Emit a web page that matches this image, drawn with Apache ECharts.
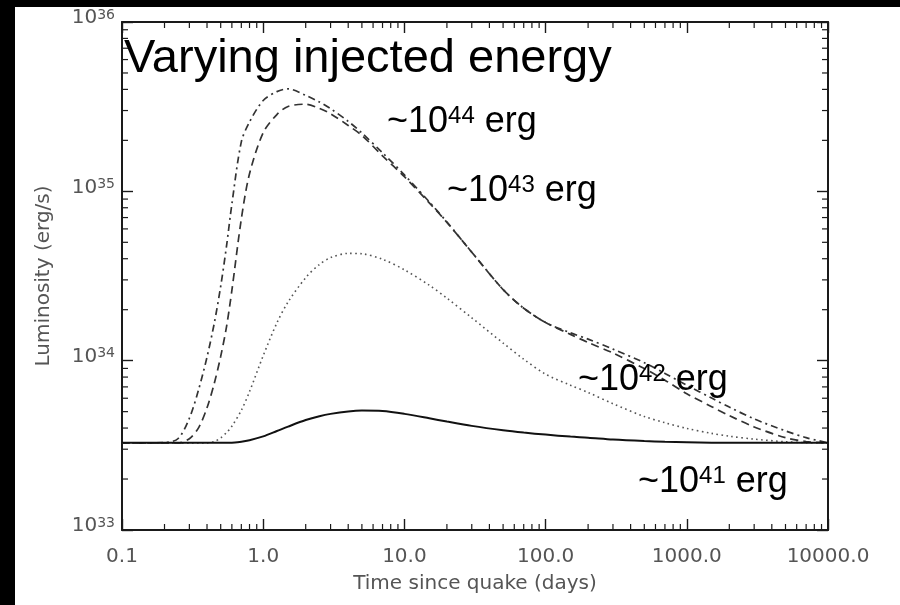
<!DOCTYPE html>
<html><head><meta charset="utf-8">
<script src="https://cdn.jsdelivr.net/npm/echarts@6/dist/echarts.min.js"></script>
<style>html,body{margin:0;padding:0;background:#fff}#c{width:900px;height:605px}</style>
</head><body><div id="c"></div>
<script>
// ---- data ----
const days = [0.1, 0.15, 0.2, 0.25, 0.3, 0.35, 0.4, 0.45, 0.5, 0.55, 0.6, 0.7, 0.8, 1, 1.25, 1.5, 2, 2.5, 3, 4, 5, 7, 10, 15, 20, 30, 50, 70, 100, 150, 200, 300, 500, 700, 1000, 1500, 2000, 3000, 5000, 7000, 10000];
const lum44 = [3.27e33, 3.27e33, 3.28e33, 3.47e33, 4.57e33, 6.82e33, 1.05e34, 1.66e34, 2.75e34, 4.76e34, 8.41e34, 1.96e35, 2.57e35, 3.44e35, 3.88e35, 4.03e35, 3.69e35, 3.37e35, 3.08e35, 2.59e35, 2.21e35, 1.69e35, 1.25e35, 8.67e34, 6.59e34, 4.37e34, 2.63e34, 2.04e34, 1.68e34, 1.46e34, 1.34e34, 1.17e34, 9.73e33, 8.41e33, 7.16e33, 6.01e33, 5.32e33, 4.53e33, 3.85e33, 3.51e33, 3.27e33];
const lum43 = [3.27e33, 3.27e33, 3.27e33, 3.27e33, 3.46e33, 4.04e33, 5.27e33, 7.33e33, 1.06e34, 1.59e34, 2.60e34, 6.87e34, 1.27e35, 2.22e35, 2.84e35, 3.17e35, 3.27e35, 3.09e35, 2.87e35, 2.45e35, 2.14e35, 1.62e35, 1.22e35, 8.55e34, 6.56e34, 4.37e34, 2.63e34, 2.04e34, 1.68e34, 1.43e34, 1.28e34, 1.11e34, 8.98e33, 7.67e33, 6.38e33, 5.35e33, 4.74e33, 4.06e33, 3.51e33, 3.33e33, 3.27e33];
const lum42 = [3.27e33, 3.27e33, 3.27e33, 3.27e33, 3.27e33, 3.27e33, 3.27e33, 3.33e33, 3.50e33, 3.76e33, 4.10e33, 5.09e33, 6.56e33, 1.07e34, 1.67e34, 2.22e34, 3.09e34, 3.70e34, 4.06e34, 4.30e34, 4.28e34, 3.97e34, 3.44e34, 2.79e34, 2.34e34, 1.79e34, 1.27e34, 1.02e34, 8.32e33, 7.16e33, 6.49e33, 5.57e33, 4.68e33, 4.30e33, 3.98e33, 3.72e33, 3.58e33, 3.44e33, 3.32e33, 3.28e33, 3.27e33];
const lum41 = [3.27e33, 3.27e33, 3.27e33, 3.27e33, 3.27e33, 3.27e33, 3.27e33, 3.27e33, 3.27e33, 3.27e33, 3.28e33, 3.32e33, 3.39e33, 3.57e33, 3.84e33, 4.08e33, 4.46e33, 4.70e33, 4.85e33, 5.01e33, 5.07e33, 5.04e33, 4.85e33, 4.57e33, 4.37e33, 4.12e33, 3.88e33, 3.76e33, 3.66e33, 3.56e33, 3.51e33, 3.42e33, 3.35e33, 3.32e33, 3.30e33, 3.28e33, 3.27e33, 3.27e33, 3.27e33, 3.27e33, 3.27e33];
const xTickLabels = ['0.1', '1.0', '10.0', '100.0', '1000.0', '10000.0'];
const yTickExponents = ['33', '34', '35', '36'];
const energyExponents = ['44', '43', '42', '41'];
const xMinorTicks = [0.2,0.3,0.4,0.5,0.6,0.7,0.8,0.9, 2,3,4,5,6,7,8,9, 20,30,40,50,60,70,80,90, 200,300,400,500,600,700,800,900, 2000,3000,4000,5000,6000,7000,8000,9000];
const yMinorTicks = [2e33,3e33,4e33,5e33,6e33,7e33,8e33,9e33, 2e34,3e34,4e34,5e34,6e34,7e34,8e34,9e34, 2e35,3e35,4e35,5e35,6e35,7e35,8e35,9e35];
const titleText = 'Varying injected energy';
const xName = 'Time since quake (days)';
const yName = 'Luminosity (erg/s)';

// ---- chart ----
const X_MIN = 0.1, X_MAX = 10000, Y_MIN = 1e33, Y_MAX = 1e36;
const FRAME = '#1a1a1a';
const labelFont = 'DejaVu Sans';
const pairs = arr => days.map((d, i) => [d, arr[i]]);

function xMinorRender(params, api) {
  const v = api.value(0);
  const b = api.coord([v, Y_MIN]);
  const t = api.coord([v, Y_MAX]);
  return { type: 'group', children: [
    { type: 'line', shape: { x1: b[0], y1: b[1], x2: b[0], y2: b[1] - 6 }, style: { stroke: FRAME, lineWidth: 1.2 } },
    { type: 'line', shape: { x1: t[0], y1: t[1], x2: t[0], y2: t[1] + 6 }, style: { stroke: FRAME, lineWidth: 1.2 } }
  ]};
}
function yMinorRender(params, api) {
  const v = api.value(1);
  const l = api.coord([X_MIN, v]);
  const r = api.coord([X_MAX, v]);
  return { type: 'group', children: [
    { type: 'line', shape: { x1: l[0], y1: l[1], x2: l[0] + 6, y2: l[1] }, style: { stroke: FRAME, lineWidth: 1.2 } },
    { type: 'line', shape: { x1: r[0], y1: r[1], x2: r[0] - 6, y2: r[1] }, style: { stroke: FRAME, lineWidth: 1.2 } }
  ]};
}

const axisCommon = {
  type: 'log', logBase: 10,
  axisLine: { show: true, lineStyle: { color: FRAME, width: 2 } },
  axisTick: { show: true, inside: true, length: 11, lineStyle: { color: FRAME, width: 1.4 } },
  splitLine: { show: false },
  minorTick: { show: false },
  minorSplitLine: { show: false }
};

const supRich = { sup: { fontSize: 14, fontFamily: labelFont, color: '#555', verticalAlign: 'top', lineHeight: 14 } };

const option = {
  backgroundColor: '#fff',
  animation: false,
  grid: { left: 122, top: 22, right: 72, bottom: 75, containLabel: false },
  xAxis: [
    Object.assign({}, axisCommon, {
      position: 'bottom', min: X_MIN, max: X_MAX, interval: 1,
      axisLabel: {
        margin: 17, fontSize: 20, fontFamily: labelFont, color: '#555',
        formatter: v => xTickLabels[Math.round(Math.log10(v)) + 1]
      },
      name: xName, nameLocation: 'middle', nameGap: 44,
      nameTextStyle: { fontSize: 20, fontFamily: labelFont, color: '#555' }
    }),
    Object.assign({}, axisCommon, {
      position: 'top', min: X_MIN, max: X_MAX, interval: 1,
      axisLabel: { show: false }
    })
  ],
  yAxis: [
    Object.assign({}, axisCommon, {
      position: 'left', min: Y_MIN, max: Y_MAX, interval: 1,
      axisLabel: {
        margin: 7, fontSize: 20, fontFamily: labelFont, color: '#555', lineHeight: 20,
        padding: [0, 0, 8, 0],
        formatter: v => '10{sup|' + yTickExponents[Math.round(Math.log10(v)) - 33] + '}',
        rich: supRich
      },
      name: yName, nameLocation: 'middle', nameGap: 68, nameRotate: 90,
      nameTextStyle: { fontSize: 20, fontFamily: labelFont, color: '#555' }
    }),
    Object.assign({}, axisCommon, {
      position: 'right', min: Y_MIN, max: Y_MAX, interval: 1,
      axisLabel: { show: false }
    })
  ],
  series: [
    { type: 'custom', name: 'xminor', coordinateSystem: 'cartesian2d', silent: true, clip: false,
      renderItem: xMinorRender, data: xMinorTicks.map(v => [v, Y_MIN]), z: 5 },
    { type: 'custom', name: 'yminor', coordinateSystem: 'cartesian2d', silent: true, clip: false,
      renderItem: yMinorRender, data: yMinorTicks.map(v => [X_MIN, v]), z: 5 },
    { type: 'line', name: '1e44', data: pairs(lum44), showSymbol: false, smooth: 0.3,
      lineStyle: { color: '#333', width: 1.7, type: [7, 4, 2, 4] } },
    { type: 'line', name: '1e43', data: pairs(lum43), showSymbol: false, smooth: 0.3,
      lineStyle: { color: '#333', width: 1.7, type: [8, 5] } },
    { type: 'line', name: '1e42', data: pairs(lum42), showSymbol: false, smooth: 0.3,
      lineStyle: { color: '#555', width: 1.6, type: [1.6, 3.4] } },
    { type: 'line', name: '1e41', data: pairs(lum41), showSymbol: false, smooth: 0.3,
      lineStyle: { color: '#111', width: 2 } }
  ],
  graphic: [
    { type: 'rect', left: 0, top: 0, shape: { width: 900, height: 7 }, style: { fill: '#000' }, z: 100 },
    { type: 'rect', left: 0, top: 0, shape: { width: 15, height: 605 }, style: { fill: '#000' }, z: 100 },
    { type: 'text', x: 124, y: 59, style: { text: titleText, font: '47px "Liberation Sans", Arial, sans-serif', fill: '#000', verticalAlign: 'middle' }, z: 50 },
    ...[[387, 104], [447, 173], [578, 362], [638, 464]].map((p, i) => ({
      type: 'text', x: p[0], y: p[1], z: 50,
      style: {
        text: '~10{sup|' + energyExponents[i] + '} erg',
        fontSize: 36, fontFamily: '"Liberation Sans", Arial, sans-serif', fill: '#000',
        verticalAlign: 'top', lineHeight: 36,
        rich: { sup: { fontSize: 24, fontFamily: '"Liberation Sans", Arial, sans-serif', fill: '#000', verticalAlign: 'top', lineHeight: 24 } }
      }
    }))
  ]
};

const chart = echarts.init(document.getElementById('c'), null, { renderer: 'canvas' });
chart.setOption(option);
</script>
</body></html>
